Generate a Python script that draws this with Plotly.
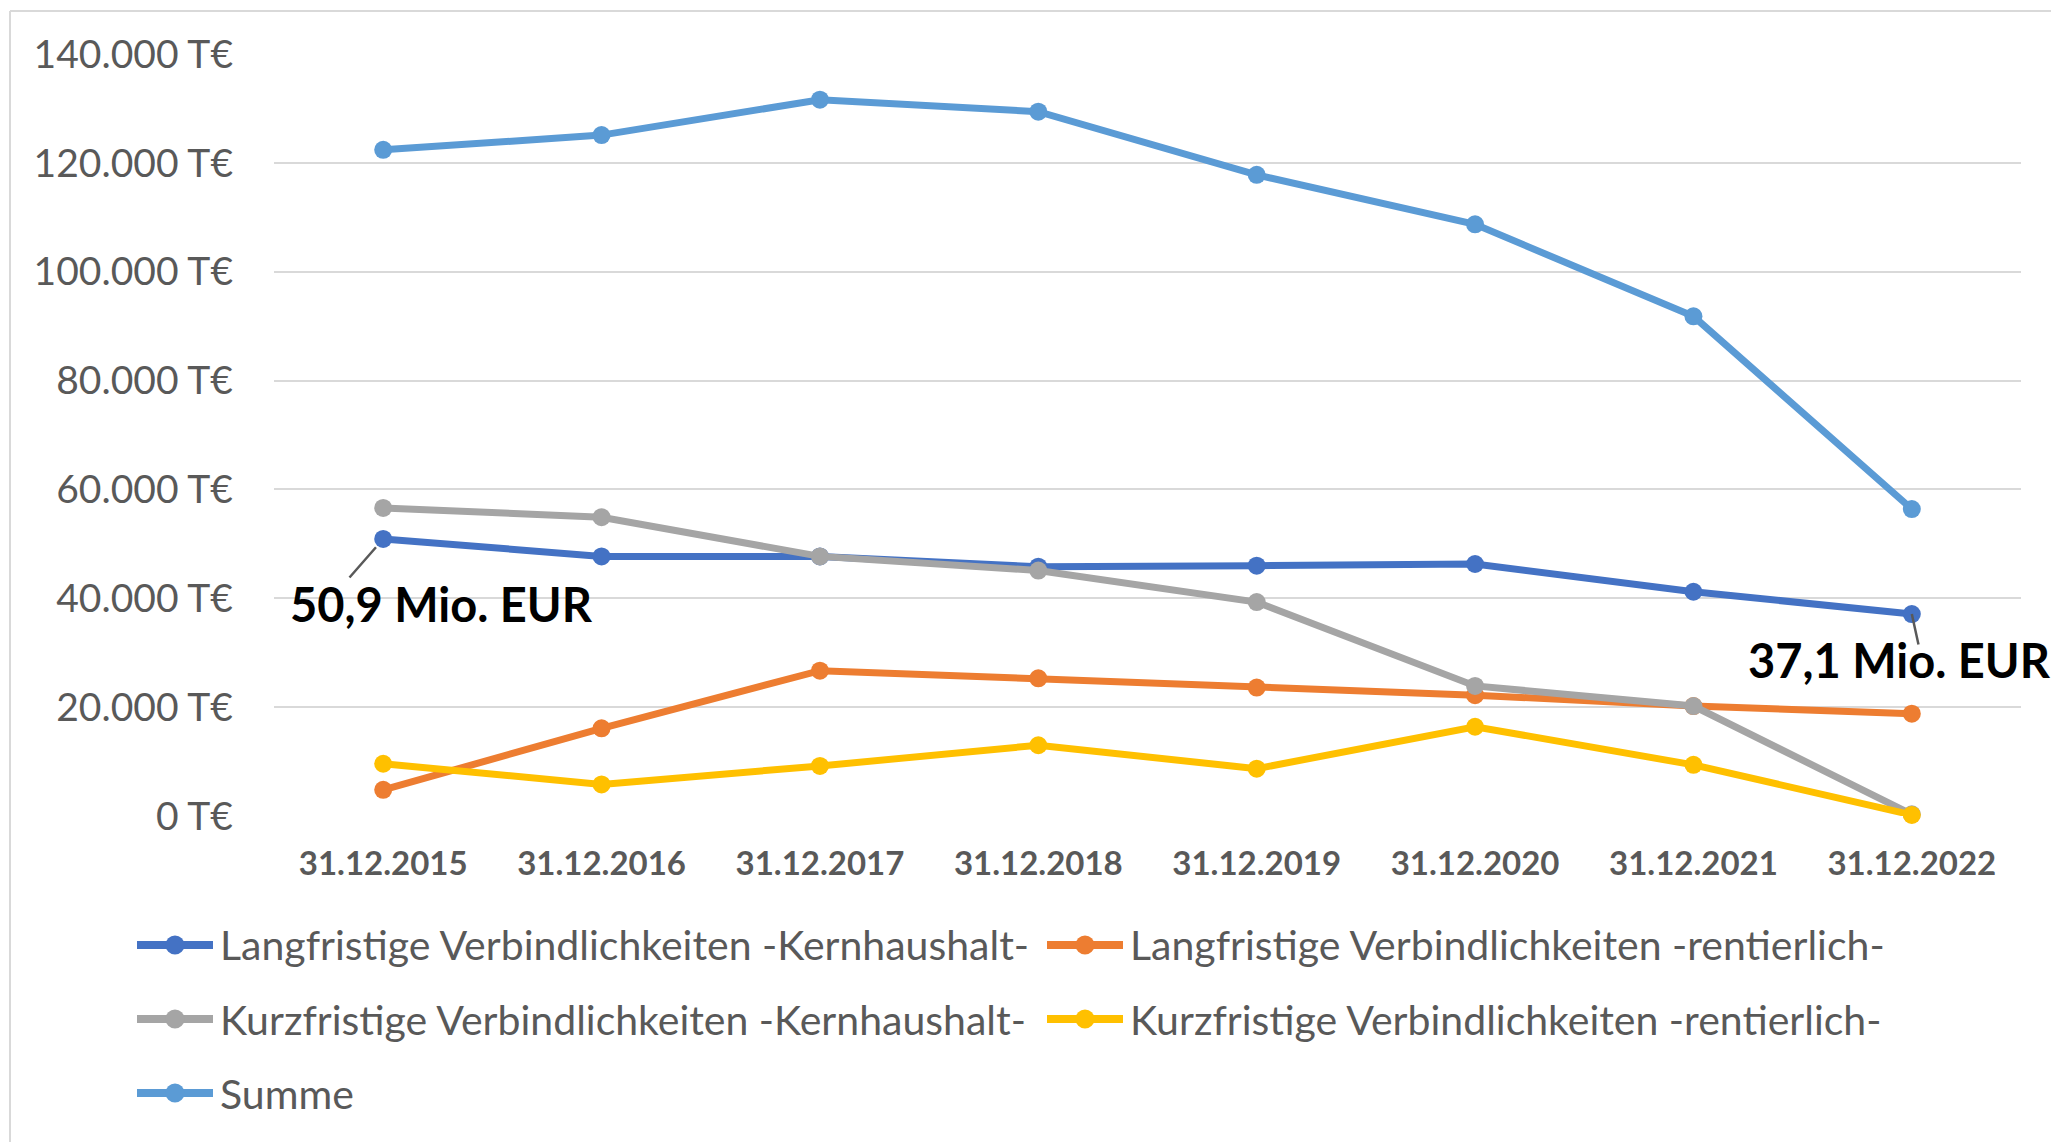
import plotly.graph_objects as go

categories = ["31.12.2015", "31.12.2016", "31.12.2017", "31.12.2018",
              "31.12.2019", "31.12.2020", "31.12.2021", "31.12.2022"]

lang_kern = [50900, 47700, 47700, 45800, 46000, 46300, 41200, 37100]
lang_rent = [4800, 16100, 26700, 25300, 23600, 22200, 20200, 18800]
kurz_kern = [56600, 54900, 47700, 45100, 39300, 23900, 20200, 300]
kurz_rent = [9600, 5800, 9200, 13000, 8700, 16400, 9400, 200]
summe = [122400, 125100, 131600, 129400, 117800, 108700, 91800, 56400]

series_names = [
    "Langfristige Verbindlichkeiten -Kernhaushalt-",
    "Langfristige Verbindlichkeiten -rentierlich-",
    "Kurzfristige Verbindlichkeiten -Kernhaushalt-",
    "Kurzfristige Verbindlichkeiten -rentierlich-",
    "Summe",
]
series_values = [lang_kern, lang_rent, kurz_kern, kurz_rent, summe]
series_colors = ["#4472C4", "#ED7D31", "#A5A5A5", "#FFC000", "#5B9BD5"]

y_tickvals = [0, 20000, 40000, 60000, 80000, 100000, 120000, 140000]
y_ticktext = ["0 T€", "20.000 T€", "40.000 T€", "60.000 T€", "80.000 T€",
              "100.000 T€", "120.000 T€", "140.000 T€"]

label_start = "50,9 Mio. EUR"
label_end = "37,1 Mio. EUR"

W, H = 2051, 1142
L, R, T, B = 274, 30, 54, 326
plot_w = W - L - R
plot_h = H - T - B

def px_x(p):
    return (p - L) / plot_w

def px_y(p):
    return (H - B - p) / plot_h

GRID = "#D9D9D9"
TXT = "#595959"
FONT = "Lato"

fig = go.Figure()
for name, vals, col in zip(series_names, series_values, series_colors):
    fig.add_trace(go.Scatter(
        x=categories, y=vals, name=name,
        mode="lines+markers",
        line=dict(color=col, width=7),
        marker=dict(color=col, size=18),
        cliponaxis=False,
    ))

# legend layout (pixel positions of legend entries)
legend_rows = [945, 945, 1019, 1019, 1093]
legend_cols = [137, 1047, 137, 1047, 137]
sym_len = 76

shapes = [
    dict(type="line", xref="paper", yref="paper",
         x0=px_x(10), x1=px_x(W), y0=px_y(11), y1=px_y(11),
         line=dict(color=GRID, width=2)),
    dict(type="line", xref="paper", yref="paper",
         x0=px_x(10), x1=px_x(10), y0=px_y(11), y1=px_y(H),
         line=dict(color=GRID, width=2)),
]
annotations = []
for name, col, ry, cx in zip(series_names, series_colors, legend_rows, legend_cols):
    shapes.append(dict(type="line", xref="paper", yref="paper",
                       x0=px_x(cx), x1=px_x(cx + sym_len),
                       y0=px_y(ry), y1=px_y(ry),
                       line=dict(color=col, width=8)))
    mx = cx + sym_len / 2
    shapes.append(dict(type="circle", xref="paper", yref="paper",
                       x0=px_x(mx - 9.5), x1=px_x(mx + 9.5),
                       y0=px_y(ry + 9.5), y1=px_y(ry - 9.5),
                       fillcolor=col, line=dict(color=col, width=0)))
    annotations.append(dict(xref="paper", yref="paper",
                            x=px_x(cx + sym_len + 5), y=px_y(ry),
                            xanchor="left", yanchor="middle", showarrow=False,
                            text=name,
                            font=dict(family=FONT, size=41, color=TXT)))

fig.update_layout(
    width=W, height=H,
    margin=dict(l=L, r=R, t=T, b=B, autoexpand=False),
    paper_bgcolor="white", plot_bgcolor="white",
    font=dict(family=FONT, color=TXT),
    showlegend=False,
    xaxis=dict(
        type="category", range=[-0.5, len(categories) - 0.5],
        showgrid=False, zeroline=False, showline=False,
        ticks="", automargin=False,
        tickfont=dict(family=FONT, size=33, color=TXT, weight="bold"),
        ticklabelstandoff=25,
    ),
    yaxis=dict(
        range=[0, 140000], tickvals=y_tickvals, ticktext=y_ticktext,
        showgrid=True, gridcolor=GRID, gridwidth=2, zeroline=False,
        showline=False, ticks="", automargin=False,
        tickfont=dict(family=FONT, size=39, color=TXT),
        ticklabelstandoff=40,
    ),
    shapes=shapes,
    annotations=annotations,
)

# leader lines
fig.add_annotation(x=categories[0], y=lang_kern[0], text="", showarrow=True,
                   ax=-35, ay=40, arrowhead=0, arrowwidth=2.5,
                   arrowcolor=TXT, standoff=11)
fig.add_annotation(x=categories[-1], y=lang_kern[-1], text="", showarrow=True,
                   ax=7, ay=32, arrowhead=0, arrowwidth=2.5,
                   arrowcolor=TXT, standoff=0)
# labels
fig.add_annotation(x=categories[0], y=lang_kern[0], text=label_start,
                   showarrow=False, xanchor="left", yanchor="middle",
                   xshift=288 - 383, yshift=-65,
                   font=dict(family=FONT, size=47, color="black", weight="bold"))
fig.add_annotation(x=categories[-1], y=lang_kern[-1], text=label_end,
                   showarrow=False, xanchor="left", yanchor="middle",
                   xshift=1746 - 1912, yshift=-46,
                   font=dict(family=FONT, size=47, color="black", weight="bold"))

fig.write_html("out.html", config={"displayModeBar": False},
               post_script="document.body.style.margin='0';")
